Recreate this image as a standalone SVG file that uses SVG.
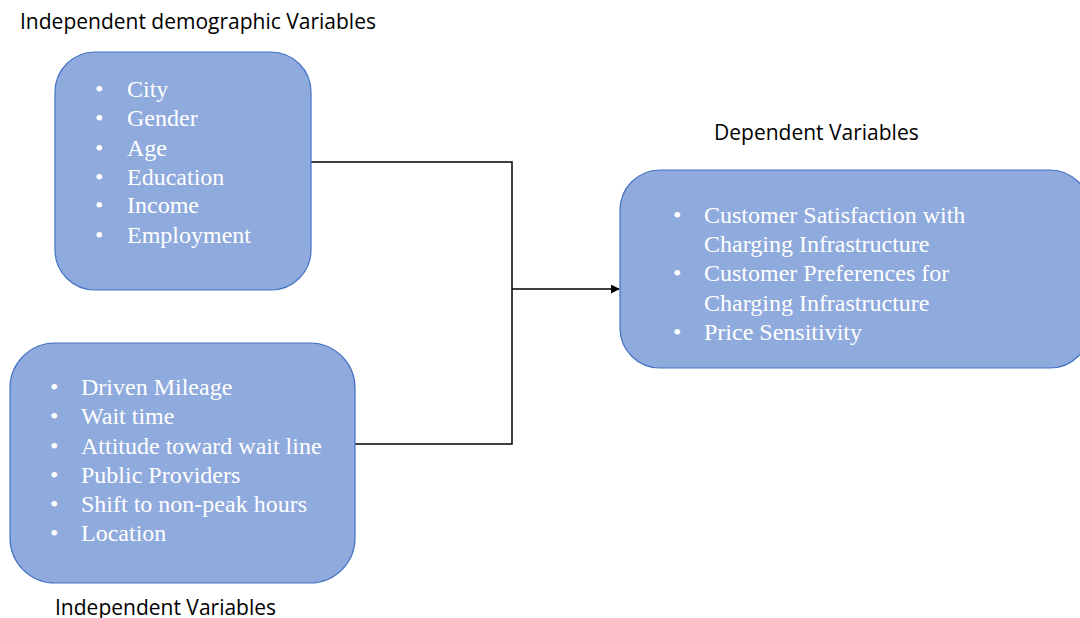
<svg xmlns="http://www.w3.org/2000/svg" width="1080" height="618" viewBox="0 0 1080 618">
  <style>
    .box { fill: #8FAADC; stroke: #4472C4; stroke-width: 1.2; }
    .item { font-family: "Liberation Serif", "Times New Roman", serif; font-size: 24px; fill: #FFFFFF; }
    .cap { font-family: "Open Sans", "Liberation Sans", sans-serif; font-size: 21px; fill: #000000; }
    .wire { fill: none; stroke: #000000; stroke-width: 1.5; }
  </style>
  <defs>
    <marker id="arrow" viewBox="0 0 10 10" refX="9" refY="5" markerWidth="6" markerHeight="6" orient="auto">
      <path d="M0,0 L10,5 L0,10 Z" fill="#000000"/>
    </marker>
  </defs>
  <rect width="1080" height="618" fill="#FFFFFF"/>

  <g id="connectors">
    <polyline class="wire" points="311,162 512,162 512,444 355,444"/>
    <line class="wire" x1="512" y1="289" x2="619" y2="289" marker-end="url(#arrow)"/>
  </g>

  <g id="demographic">
    <rect class="box" x="55" y="52" width="256" height="238" rx="40"/>
    <g class="item">
      <text x="95" y="97">•</text><text x="127" y="97">City</text>
      <text x="95" y="126">•</text><text x="127" y="126">Gender</text>
      <text x="95" y="156">•</text><text x="127" y="156">Age</text>
      <text x="95" y="185">•</text><text x="127" y="185">Education</text>
      <text x="95" y="213">•</text><text x="127" y="213">Income</text>
      <text x="95" y="243">•</text><text x="127" y="243">Employment</text>
    </g>
    <text class="cap" x="20" y="29">Independent demographic Variables</text>
  </g>

  <g id="independent">
    <rect class="box" x="10" y="343" width="345" height="240" rx="45"/>
    <g class="item">
      <text x="50" y="395">•</text><text x="81" y="395">Driven Mileage</text>
      <text x="50" y="424">•</text><text x="81" y="424">Wait time</text>
      <text x="50" y="454">•</text><text x="81" y="454">Attitude toward wait line</text>
      <text x="50" y="483">•</text><text x="81" y="483">Public Providers</text>
      <text x="50" y="512">•</text><text x="81" y="512">Shift to non-peak hours</text>
      <text x="50" y="541">•</text><text x="81" y="541">Location</text>
    </g>
    <text class="cap" x="55" y="615">Independent Variables</text>
  </g>

  <g id="dependent">
    <rect class="box" x="620" y="170" width="470" height="198" rx="40"/>
    <g class="item">
      <text x="673" y="223">•</text><text x="704" y="223">Customer Satisfaction with</text>
      <text x="704" y="252">Charging Infrastructure</text>
      <text x="673" y="281">•</text><text x="704" y="281">Customer Preferences for</text>
      <text x="704" y="311">Charging Infrastructure</text>
      <text x="673" y="340">•</text><text x="704" y="340">Price Sensitivity</text>
    </g>
    <text class="cap" x="714" y="140">Dependent Variables</text>
  </g>
</svg>
